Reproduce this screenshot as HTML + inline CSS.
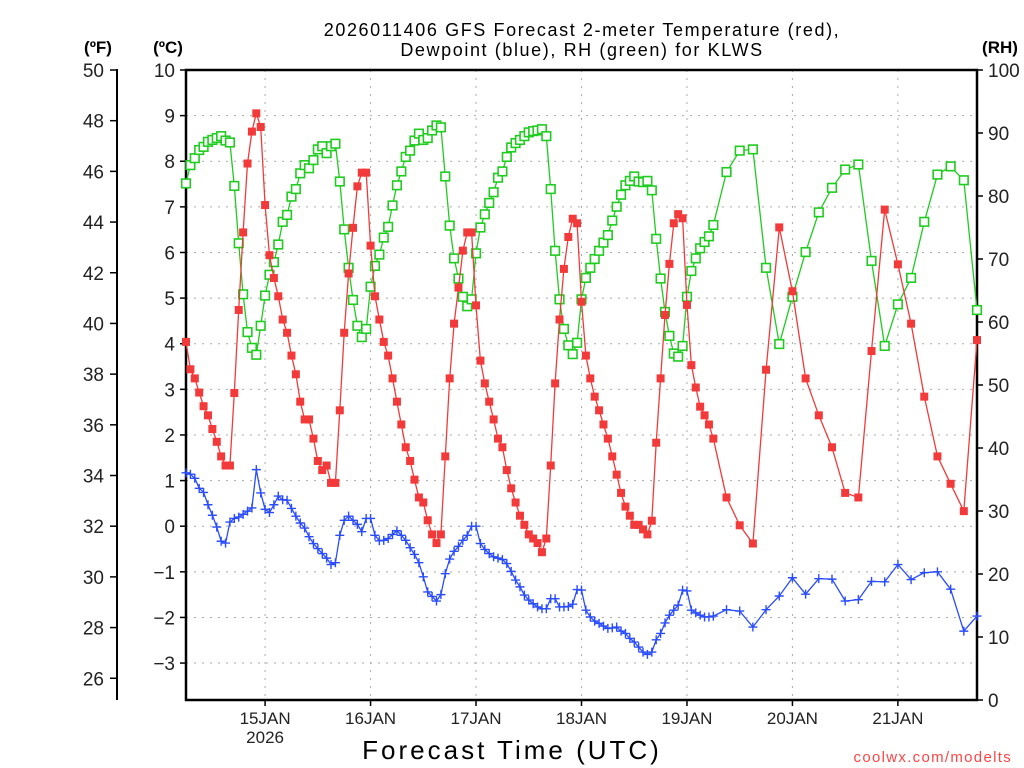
<!DOCTYPE html>
<html><head><meta charset="utf-8"><style>
html,body{margin:0;padding:0;background:#fff;}
svg{display:block;font-family:"Liberation Sans",sans-serif;}
</style></head><body>
<svg id="chart" width="1024" height="768" viewBox="0 0 1024 768" xmlns="http://www.w3.org/2000/svg">
<rect x="0" y="0" width="1024" height="768" fill="#fff"/>
<text x="582" y="36" font-size="18" text-anchor="middle" fill="#000" letter-spacing="1.6">2026011406 GFS Forecast 2-meter Temperature (red),</text>
<text x="582" y="56" font-size="18" text-anchor="middle" fill="#000" letter-spacing="1.6">Dewpoint (blue), RH (green) for KLWS</text>
<text x="98" y="53" font-size="17" font-weight="bold" text-anchor="middle">(ºF)</text>
<text x="168" y="53" font-size="17" font-weight="bold" text-anchor="middle">(ºC)</text>
<text x="1000" y="53" font-size="17" font-weight="bold" text-anchor="middle">(RH)</text>
<text x="512" y="759" font-size="26" text-anchor="middle" letter-spacing="3">Forecast Time (UTC)</text>
<text x="1012" y="762" font-size="15" text-anchor="end" fill="#ff4444" letter-spacing="1.3">coolwx.com/modelts</text>
<g id="grid"></g><g id="axes"></g><g id="series"></g>
</svg>
<script>
// ---- data ----
const hours = [];
for (let h = 0; h <= 120; h++) hours.push(h);
for (let h = 123; h <= 180; h += 3) hours.push(h);
const tempC = [4.04,3.44,3.24,2.93,2.63,2.43,2.13,1.85,1.53,1.33,1.33,2.92,4.74,6.44,7.95,8.65,9.05,8.75,7.04,5.94,5.44,5.04,4.53,4.24,3.74,3.33,2.73,2.34,2.34,1.92,1.43,1.23,1.33,0.95,0.95,2.54,4.24,5.54,6.54,7.45,7.75,7.75,6.15,5.04,4.53,
4.04,3.74,3.24,2.73,2.23,1.73,1.43,1.02,0.63,0.52,0.13,-0.18,-0.37,-0.18,1.53,3.24,4.44,5.23,6.04,6.44,6.44,4.84,3.63,3.13,2.73,2.34,1.92,1.73,1.23,0.83,0.52,0.23,0.03,-0.18,-0.27,-0.37,-0.57,-0.27,1.33,3.13,4.53,5.64,6.34,6.74,6.64,4.92,3.74,3.24,
2.84,2.54,2.23,1.92,1.53,1.13,0.73,0.43,0.23,0.03,0.03,-0.07,-0.18,0.12,1.83,3.24,4.63,5.75,6.64,6.84,6.75,4.85,3.53,3.04,2.62,2.43,2.23,1.92,
0.63,0.02,-0.38,3.43,6.55,5.15,3.24,2.43,1.73,0.73,0.63,3.84,6.94,5.74,4.44,2.84,1.53,0.93,0.33,4.08];
const dewC = [1.17,1.14,1.05,0.83,0.74,0.47,0.24,-0.02,-0.33,-0.37,0.09,0.17,0.20,0.26,0.33,0.40,1.24,0.73,0.37,0.30,0.47,0.66,0.58,0.57,0.39,0.22,0.07,-0.04,-0.23,-0.38,-0.49,-0.60,-0.70,-0.84,-0.80,-0.20,0.13,0.22,0.13,0.04,-0.12,0.17,0.17,-0.20,-0.32,
-0.31,-0.27,-0.18,-0.10,-0.20,-0.31,-0.47,-0.62,-0.80,-1.11,-1.44,-1.54,-1.64,-1.50,-1.04,-0.72,-0.55,-0.44,-0.31,-0.20,0.00,0.00,-0.38,-0.51,-0.60,-0.67,-0.70,-0.73,-0.82,-0.99,-1.18,-1.33,-1.51,-1.62,-1.70,-1.77,-1.81,-1.81,-1.59,-1.59,-1.77,-1.77,-1.76,-1.71,-1.39,-1.40,
-1.84,-1.99,-2.08,-2.13,-2.19,-2.24,-2.23,-2.21,-2.30,-2.35,-2.46,-2.54,-2.65,-2.76,-2.81,-2.76,-2.49,-2.35,-2.12,-1.95,-1.84,-1.73,-1.40,-1.42,-1.84,-1.90,-1.95,-1.99,-1.99,-1.97,
-1.83,-1.86,-2.21,-1.83,-1.53,-1.13,-1.49,-1.15,-1.16,-1.64,-1.61,-1.21,-1.22,-0.84,-1.17,-1.02,-1.00,-1.38,-2.30,-1.97];
const rhPct = [82.0,84.9,86.0,87.3,87.8,88.6,88.9,89.2,89.5,88.8,88.5,81.6,72.5,64.4,58.4,55.9,54.8,59.4,64.2,67.5,69.5,72.3,75.9,77.0,79.9,81.1,83.6,84.9,84.4,85.7,87.4,87.9,86.8,87.9,88.3,82.3,74.7,68.6,63.5,59.4,57.6,58.9,65.6,68.9,70.7,
73.4,75.1,78.5,81.7,83.9,86.2,87.2,88.8,89.9,88.9,89.2,90.4,91.2,90.9,83.1,75.3,70.1,66.9,64.0,62.5,63.6,70.9,75.0,77.1,78.9,80.6,82.9,83.9,86.2,87.7,88.4,88.9,89.5,90.1,90.3,90.4,90.6,89.5,81.1,71.3,63.6,58.9,56.3,54.9,56.7,63.6,67.0,68.6,
70.0,71.3,72.6,73.8,76.1,78.3,80.2,81.7,82.4,83.1,82.3,82.2,82.4,80.9,73.2,66.9,61.6,57.8,55.0,54.5,56.2,64.0,68.1,70.1,71.7,72.7,73.6,75.4,
83.8,87.2,87.4,68.6,56.5,64.0,71.1,77.4,81.3,84.2,85.0,69.7,56.2,62.8,67.0,75.9,83.4,84.7,82.5,61.9];
const fTicks = [26,28,30,32,34,36,38,40,42,44,46,48,50];
const cTicks = [-3,-2,-1,0,1,2,3,4,5,6,7,8,9,10];
const rhTicks = [0,10,20,30,40,50,60,70,80,90,100];
const dayLabels = ["15JAN","16JAN","17JAN","18JAN","19JAN","20JAN","21JAN"];
const dayHours = [18,42,66,90,114,138,162];

// ---- scales ----
const L = 186, R = 977, T = 70, B = 700;
const xS = h => L + h * (R - L) / 180;
const yC = c => T + (10 - c) * 45.62;
const yF = f => yC((f - 32) / 1.8);
const yRH = r => B - r * (B - T) / 100;
const NS = "http://www.w3.org/2000/svg";
function mk(tag, attrs, parent) {
  const e = document.createElementNS(NS, tag);
  for (const k in attrs) e.setAttribute(k, attrs[k]);
  parent.appendChild(e); return e;
}
const grid = document.getElementById('grid');
const axes = document.getElementById('axes');
const series = document.getElementById('series');

cTicks.forEach(c => {
  const l = mk('line', {x1: L, x2: R, y1: yC(c), y2: yC(c), stroke: '#aaa', 'stroke-width': 1, 'stroke-dasharray': '2,6'}, grid);
  
  
});
dayHours.forEach(h => {
  const l = mk('line', {x1: xS(h), x2: xS(h), y1: T, y2: B, stroke: '#aaa', 'stroke-width': 1, 'stroke-dasharray': '2,6'}, grid);
  
  
});

const frame = mk('rect', {x: L, y: T, width: R - L, height: B - T, fill: 'none', stroke: '#000', 'stroke-width': 2.5}, axes);


const fl = mk('line', {x1: 117, x2: 117, y1: yF(50) - 1, y2: B, stroke: '#000', 'stroke-width': 2}, axes);



fTicks.forEach(f => {
  const y = yF(f);
  mk('line', {x1: 110, x2: 117, y1: y, y2: y, stroke: '#000', 'stroke-width': 1.5}, axes);
  const t = mk('text', {x: 104, y: y + 7, 'font-size': 19, 'text-anchor': 'end', fill: '#222'}, axes);
  t.textContent = f;
  
  
});
cTicks.forEach(c => {
  const y = yC(c);
  mk('line', {x1: 180, x2: L, y1: y, y2: y, stroke: '#000', 'stroke-width': 1.5}, axes);
  const t = mk('text', {x: 175, y: y + 7, 'font-size': 19, 'text-anchor': 'end', fill: '#222'}, axes);
  t.textContent = c < 0 ? '\u2212' + (-c) : c;
  
  
});
rhTicks.forEach(r => {
  const y = yRH(r);
  mk('line', {x1: R, x2: R + 6, y1: y, y2: y, stroke: '#000', 'stroke-width': 1.5}, axes);
  const t = mk('text', {x: 988, y: y + 7, 'font-size': 19, 'text-anchor': 'start', fill: '#222'}, axes);
  t.textContent = r;
  
  
});
dayHours.forEach((h, i) => {
  const x = xS(h);
  mk('line', {x1: x, x2: x, y1: B, y2: B + 6, stroke: '#000', 'stroke-width': 1.5}, axes);
  const t = mk('text', {x: x, y: B + 24, 'font-size': 17, 'text-anchor': 'middle', fill: '#222'}, axes);
  t.textContent = dayLabels[i];
  
  
});
const yr = mk('text', {x: xS(18), y: B + 43, 'font-size': 17, 'text-anchor': 'middle', fill: '#222'}, axes);
yr.textContent = '2026';



function drawSeries(vals, yf, color, kind, name) {
  const g = mk('g', {}, series);
  
  
  const pts = vals.map((v, i) => xS(hours[i]).toFixed(1) + ',' + yf(v).toFixed(1)).join(' ');
  const pl = mk('polyline', {points: pts, fill: 'none', stroke: color, 'stroke-width': 1.3}, g);
  
  
  vals.forEach((v, i) => {
    const x = xS(hours[i]), y = yf(v);
    let m;
    if (kind === 'fill') {
      m = mk('rect', {x: x - 4, y: y - 4, width: 8, height: 8, fill: color}, g);
    } else if (kind === 'hollow') {
      m = mk('rect', {x: x - 4.3, y: y - 4.3, width: 8.6, height: 8.6, fill: '#fff', stroke: color, 'stroke-width': 1.6}, g);
    } else {
      m = mk('path', {d: `M${x - 4.5},${y}H${x + 4.5}M${x},${y - 4.5}V${y + 4.5}`, stroke: color, 'stroke-width': 1.4, fill: 'none'}, g);
    }
    
    
  });
}
drawSeries(rhPct, yRH, '#1fcc1f', 'hollow', 'rh');
drawSeries(tempC, yC, '#f23a3a', 'fill', 'temperature');
drawSeries(dewC, yC, '#2a4cff', 'plus', 'dewpoint');
</script>
</body></html>
